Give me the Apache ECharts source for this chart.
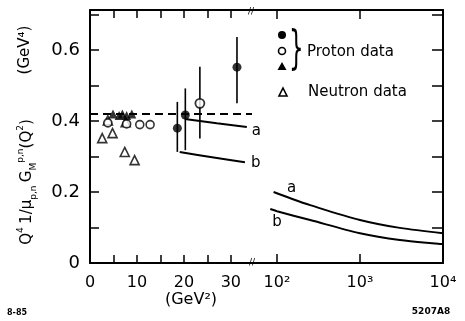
<!DOCTYPE html>
<html><head><meta charset="utf-8">
<script src="https://cdn.jsdelivr.net/npm/echarts@6/dist/echarts.min.js"></script>
<style>html,body{margin:0;padding:0;background:#fff}#c{width:465px;height:321px}</style>
</head><body><div id="c"></div>
<script>
// ---- data ----
const yTickLabels = ['0', '0.2', '0.4', '0.6'];
const yTickValues = [0, 0.2, 0.4, 0.6];
const xLinLabels = ['0', '10', '20', '30'];
const xLinValues = [0, 10, 20, 30];
const xLogLabels = ['10²', '10³', '10⁴'];
const xLogValues = [100, 1000, 10000];

// proton points with error bars: [Q2, value, low, high]
const protonFilledErr = [[18.6, 0.38, 0.313, 0.454], [20.3, 0.417, 0.318, 0.492], [31.3, 0.552, 0.45, 0.637]];
const protonOpenErr = [[23.4, 0.45, 0.351, 0.553]];
const protonOpen = [[3.8, 0.395], [7.8, 0.392], [10.6, 0.39], [12.8, 0.39]];
const protonTriFilled = [[4.9, 0.42], [6.2, 0.416], [6.9, 0.42], [7.8, 0.416], [8.9, 0.42]];
const neutronTri = [[2.6, 0.352], [4.8, 0.366], [7.4, 0.313], [9.5, 0.29], [3.8, 0.402], [7.6, 0.397]];

const dashedLevel = [[0, 0.42], [34.5, 0.42]];
const curveALeft = [[20.2, 0.406], [27, 0.394], [33.4, 0.383]];
const curveBLeft = [[19.1, 0.313], [26, 0.298], [33.0, 0.284]];
const curveARight = [[91, 0.20], [150, 0.181], [251, 0.163], [1000, 0.121], [3020, 0.099], [10000, 0.084]];
const curveBRight = [[83, 0.152], [100, 0.146], [251, 0.121], [1000, 0.084], [3020, 0.065], [10000, 0.053]];

const FONT = 'DejaVu Sans';
const axisLine = {show: true, lineStyle: {color: '#000', width: 2}};
const tick = len => ({show: true, inside: true, length: len, lineStyle: {color: '#000', width: 1.5}});

const chart = echarts.init(document.getElementById('c'));

const errRender = function (params, api) {
  const x = api.value(0), lo = api.value(2), hi = api.value(3);
  const p1 = api.coord([x, lo]), p2 = api.coord([x, hi]);
  return {type: 'line', shape: {x1: p1[0], y1: p1[1], x2: p2[0], y2: p2[1]}, style: {stroke: '#000', lineWidth: 1.6}};
};

const curveLabel = (txt, pos, dist) => ({show: true, formatter: txt, position: pos, distance: dist, color: '#000', fontFamily: FONT, fontSize: 15});

chart.setOption({
  animation: false,
  backgroundColor: '#fff',
  grid: [
    {left: 90, top: 10, width: 162, height: 253},
    {left: 252, top: 10, width: 191, height: 253}
  ],
  xAxis: [
    {gridIndex: 0, type: 'value', position: 'bottom', min: 0, max: 34.5, interval: 5,
      axisLine: axisLine, axisTick: Object.assign(tick(8), {customValues: [0, 5, 10, 15, 20, 25, 30]}),
      splitLine: {show: false},
      axisLabel: {customValues: xLinValues, margin: 12, color: '#000', fontFamily: FONT, fontSize: 16,
        formatter: v => { const i = xLinValues.indexOf(Math.round(v)); return (i >= 0 && Math.abs(v - Math.round(v)) < 1e-6) ? xLinLabels[i] : ''; }}},
    {gridIndex: 0, type: 'value', position: 'top', min: 0, max: 34.5, interval: 5,
      axisLine: axisLine, axisTick: Object.assign(tick(8), {customValues: [5, 10, 15, 20, 25, 30]}),
      splitLine: {show: false}, axisLabel: {show: false}},
    {gridIndex: 1, type: 'log', position: 'bottom', min: 50, max: 10000, logBase: 10,
      axisLine: axisLine, axisTick: Object.assign(tick(9), {customValues: [100, 1000]}),
      splitLine: {show: false}, minorTick: {show: false},
      axisLabel: {customValues: xLogValues, margin: 12, color: '#000', fontFamily: FONT, fontSize: 16,
        formatter: v => { const i = xLogValues.findIndex(t => Math.abs(t - v) / t < 1e-6); return i >= 0 ? xLogLabels[i] : ''; }}},
    {gridIndex: 1, type: 'log', position: 'top', min: 50, max: 10000, logBase: 10,
      axisLine: axisLine, axisTick: Object.assign(tick(9), {customValues: [100, 1000]}),
      splitLine: {show: false}, axisLabel: {show: false}}
  ],
  yAxis: [
    {gridIndex: 0, type: 'value', position: 'left', min: 0, max: 0.713, interval: 0.1,
      axisLine: axisLine, axisTick: Object.assign(tick(9), {customValues: [0.1, 0.2, 0.3, 0.4, 0.5, 0.6, 0.7]}),
      splitLine: {show: false},
      axisLabel: {customValues: yTickValues, margin: 10, color: '#000', fontFamily: FONT, fontSize: 18,
        formatter: v => { const i = yTickValues.findIndex(t => Math.abs(t - v) < 1e-6); return i >= 0 ? yTickLabels[i] : ''; }}},
    {gridIndex: 1, type: 'value', position: 'right', min: 0, max: 0.713, interval: 0.1,
      axisLine: axisLine, axisTick: Object.assign(tick(11), {customValues: [0.1, 0.2, 0.3, 0.4, 0.5, 0.6, 0.7]}),
      splitLine: {show: false}, axisLabel: {show: false}}
  ],
  series: [
    {type: 'line', xAxisIndex: 0, yAxisIndex: 0, data: dashedLevel, symbol: 'none',
      lineStyle: {color: '#000', width: 2, type: [8, 5]}},
    {type: 'line', xAxisIndex: 0, yAxisIndex: 0, data: curveALeft, symbol: 'none', smooth: true,
      lineStyle: {color: '#000', width: 2},
      endLabel: {show: true, formatter: 'a', color: '#000', fontFamily: FONT, fontSize: 15, distance: 5, offset: [0, 4]}},
    {type: 'line', xAxisIndex: 0, yAxisIndex: 0, data: curveBLeft, symbol: 'none', smooth: true,
      lineStyle: {color: '#000', width: 2},
      endLabel: {show: true, formatter: 'b', color: '#000', fontFamily: FONT, fontSize: 15, distance: 6, offset: [0, 1]}},
    {type: 'line', xAxisIndex: 2, yAxisIndex: 1, symbol: 'circle', symbolSize: 1, showAllSymbol: true, smooth: 0.3,
      itemStyle: {color: 'rgba(0,0,0,0)'}, lineStyle: {color: '#000', width: 2},
      data: curveARight.map((d, i) => i === 1 ? {value: d, label: curveLabel('a', 'top', 3)} : d)},
    {type: 'line', xAxisIndex: 2, yAxisIndex: 1, symbol: 'circle', symbolSize: 1, showAllSymbol: true, smooth: 0.3,
      itemStyle: {color: 'rgba(0,0,0,0)'}, lineStyle: {color: '#000', width: 2},
      data: curveBRight.map((d, i) => i === 1 ? {value: d, label: curveLabel('b', 'bottom', 3)} : d)},
    {type: 'custom', xAxisIndex: 0, yAxisIndex: 0, renderItem: errRender, encode: {x: 0, y: [2, 3]},
      data: protonFilledErr.concat(protonOpenErr), z: 3},
    {type: 'scatter', xAxisIndex: 0, yAxisIndex: 0, symbol: 'triangle', symbolSize: 9,
      itemStyle: {color: '#fff', borderColor: '#000', borderWidth: 1.6}, data: neutronTri, z: 4},
    {type: 'scatter', xAxisIndex: 0, yAxisIndex: 0, symbol: 'circle', symbolSize: 8,
      itemStyle: {color: '#fff', borderColor: '#000', borderWidth: 1.6}, data: protonOpen, z: 5},
    {type: 'scatter', xAxisIndex: 0, yAxisIndex: 0, symbol: 'triangle', symbolSize: 9,
      itemStyle: {color: '#000'}, data: protonTriFilled, z: 6},
    {type: 'scatter', xAxisIndex: 0, yAxisIndex: 0, symbol: 'circle', symbolSize: 9,
      itemStyle: {color: '#000'}, data: protonFilledErr.map(d => [d[0], d[1]]), z: 6},
    {type: 'scatter', xAxisIndex: 0, yAxisIndex: 0, symbol: 'circle', symbolSize: 9,
      itemStyle: {color: '#fff', borderColor: '#000', borderWidth: 1.8}, data: protonOpenErr.map(d => [d[0], d[1]]), z: 6}
  ],
  graphic: [
    // legend
    {type: 'circle', shape: {cx: 282, cy: 35, r: 4}, style: {fill: '#000'}},
    {type: 'circle', shape: {cx: 282, cy: 51, r: 3.5}, style: {fill: '#fff', stroke: '#000', lineWidth: 1.6}},
    {type: 'polygon', shape: {points: [[282, 62], [286.5, 70], [277.5, 70]]}, style: {fill: '#000'}},
    {type: 'text', x: 289, y: 51, style: {text: '}', fontFamily: FONT, fontSize: 46, fill: '#000', verticalAlign: 'middle', textAlign: 'left'}, scaleX: 0.5},
    {type: 'text', x: 307, y: 52, style: {text: 'Proton data', fontFamily: FONT, fontSize: 15, fill: '#000', verticalAlign: 'middle'}},
    {type: 'polygon', shape: {points: [[283, 88], [287, 96], [279, 96]]}, style: {fill: '#fff', stroke: '#000', lineWidth: 1.6}},
    {type: 'text', x: 308, y: 92, style: {text: 'Neutron data', fontFamily: FONT, fontSize: 15, fill: '#000', verticalAlign: 'middle'}},
    // axis titles
    {type: 'text', x: 191, y: 300, style: {text: '(GeV²)', fontFamily: FONT, fontSize: 16, fill: '#000', textAlign: 'center', verticalAlign: 'middle'}},
    {type: 'text', x: 25, y: 50, rotation: Math.PI / 2,
      style: {text: '(GeV⁴)', fontFamily: FONT, fontSize: 15, fill: '#000', textAlign: 'center', verticalAlign: 'middle'}},
    {type: 'text', x: 27, y: 182, rotation: Math.PI / 2,
      style: {text: '{n|Q}{sup|4} {n|1/μ}{sub|p,n} {n|G}{sub|M}{sup|p,n}{n|(Q}{sup|2}{n|)}',
        textAlign: 'center', verticalAlign: 'middle', fill: '#000',
        rich: {
          n: {fontFamily: FONT, fontSize: 15, lineHeight: 22, verticalAlign: 'middle'},
          sup: {fontFamily: FONT, fontSize: 9, lineHeight: 22, verticalAlign: 'top'},
          sub: {fontFamily: FONT, fontSize: 9, lineHeight: 22, verticalAlign: 'bottom'}
        }}},
    // footnotes
    {type: 'text', x: 17, y: 313, style: {text: '8-85', fontFamily: FONT, fontSize: 8, fontWeight: 'bold', fill: '#000', textAlign: 'center', verticalAlign: 'middle'}},
    {type: 'text', x: 431, y: 312, style: {text: '5207A8', fontFamily: FONT, fontSize: 9, fontWeight: 'bold', fill: '#000', textAlign: 'center', verticalAlign: 'middle'}},
    // axis break marks
    {type: 'text', x: 251, y: 12, style: {text: '//', fontFamily: FONT, fontSize: 9, fill: '#000', textAlign: 'center', verticalAlign: 'middle', backgroundColor: '#fff'}},
    {type: 'text', x: 252, y: 263, style: {text: '//', fontFamily: FONT, fontSize: 9, fill: '#000', textAlign: 'center', verticalAlign: 'middle', backgroundColor: '#fff'}}
  ]
});
</script>
</body></html>
